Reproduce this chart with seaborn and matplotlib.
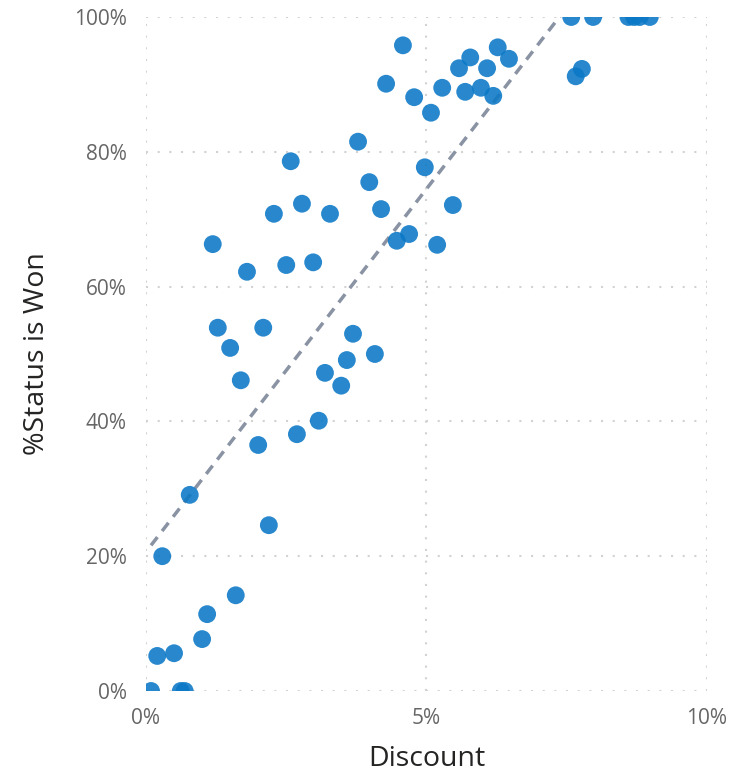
import numpy as np
import pandas as pd
import matplotlib
matplotlib.use("Agg")
import matplotlib.pyplot as plt
import seaborn as sns
from matplotlib.ticker import FuncFormatter

# discount (%) and share of won deals (%)
discount = [0.09, 0.2, 0.29, 0.5, 0.62, 0.69, 0.78, 1.0, 1.09, 1.19,
            1.28, 1.5, 1.6, 1.69, 1.8, 2.0, 2.09, 2.19, 2.28, 2.5,
            2.58, 2.69, 2.78, 2.98, 3.08, 3.19, 3.28, 3.48, 3.58, 3.69,
            3.78, 3.98, 4.08, 4.19, 4.28, 4.47, 4.58, 4.69, 4.78, 4.97,
            5.08, 5.19, 5.28, 5.47, 5.58, 5.69, 5.78, 5.97, 6.08, 6.19,
            6.27, 6.47, 7.58, 7.66, 7.77, 7.97, 8.6, 8.7, 8.8, 8.98]
won_pct = [0.0, 5.2, 20.0, 5.6, 0.0, 0.0, 29.1, 7.7, 11.4, 66.3,
           53.9, 50.9, 14.2, 46.1, 62.2, 36.5, 53.9, 24.6, 70.8, 63.2,
           78.6, 38.1, 72.3, 63.6, 40.1, 47.2, 70.8, 45.3, 49.1, 53.0,
           81.5, 75.5, 50.0, 71.5, 90.1, 66.8, 95.8, 67.8, 88.1, 77.7,
           85.8, 66.2, 89.5, 72.1, 92.4, 88.9, 94.0, 89.5, 92.4, 88.3,
           95.5, 93.8, 100.0, 91.2, 92.3, 100.0, 100.0, 100.0, 100.0, 100.0]

df = pd.DataFrame({"Discount": discount, "Won": won_pct})

sns.set_theme(style="white")
plt.rcParams["font.family"] = ["Open Sans", "DejaVu Sans"]

fig = plt.figure(figsize=(7.51, 7.73), dpi=100)
ax = fig.add_axes([0.1944, 0.1061, 0.747, 0.8719])

# dashed linear trend line through the points
sns.regplot(data=df, x="Discount", y="Won", ax=ax, ci=None, scatter=False,
            line_kws=dict(color="#8a93a3", lw=2.5, ls=(0, (3, 2.2))))
sns.scatterplot(data=df, x="Discount", y="Won", ax=ax, s=165,
                color="#0B78C6", alpha=0.88, edgecolor="none", zorder=3)

ax.set_xlim(0, 10)
ax.set_ylim(0, 100)
ax.set_xticks([0, 5, 10])
ax.set_yticks([0, 20, 40, 60, 80, 100])
ax.xaxis.set_major_formatter(FuncFormatter(lambda v, p: f"{v:.0f}%"))
ax.yaxis.set_major_formatter(FuncFormatter(lambda v, p: f"{v:.0f}%"))
ax.grid(True, color="#d2d2d2", ls=(0, (1, 4.6)), lw=1.5)
for s in ax.spines.values():
    s.set_visible(False)
ax.tick_params(length=0, labelsize=15, labelcolor="#666666")
ax.tick_params(axis="y", pad=14)
ax.tick_params(axis="x", pad=12)
ax.set_xlabel("Discount", fontsize=20.5, color="#252423", labelpad=12)
ax.set_ylabel("%Status is Won", fontsize=20.5, color="#252423", labelpad=16)

fig.savefig("out.png", dpi=100)
